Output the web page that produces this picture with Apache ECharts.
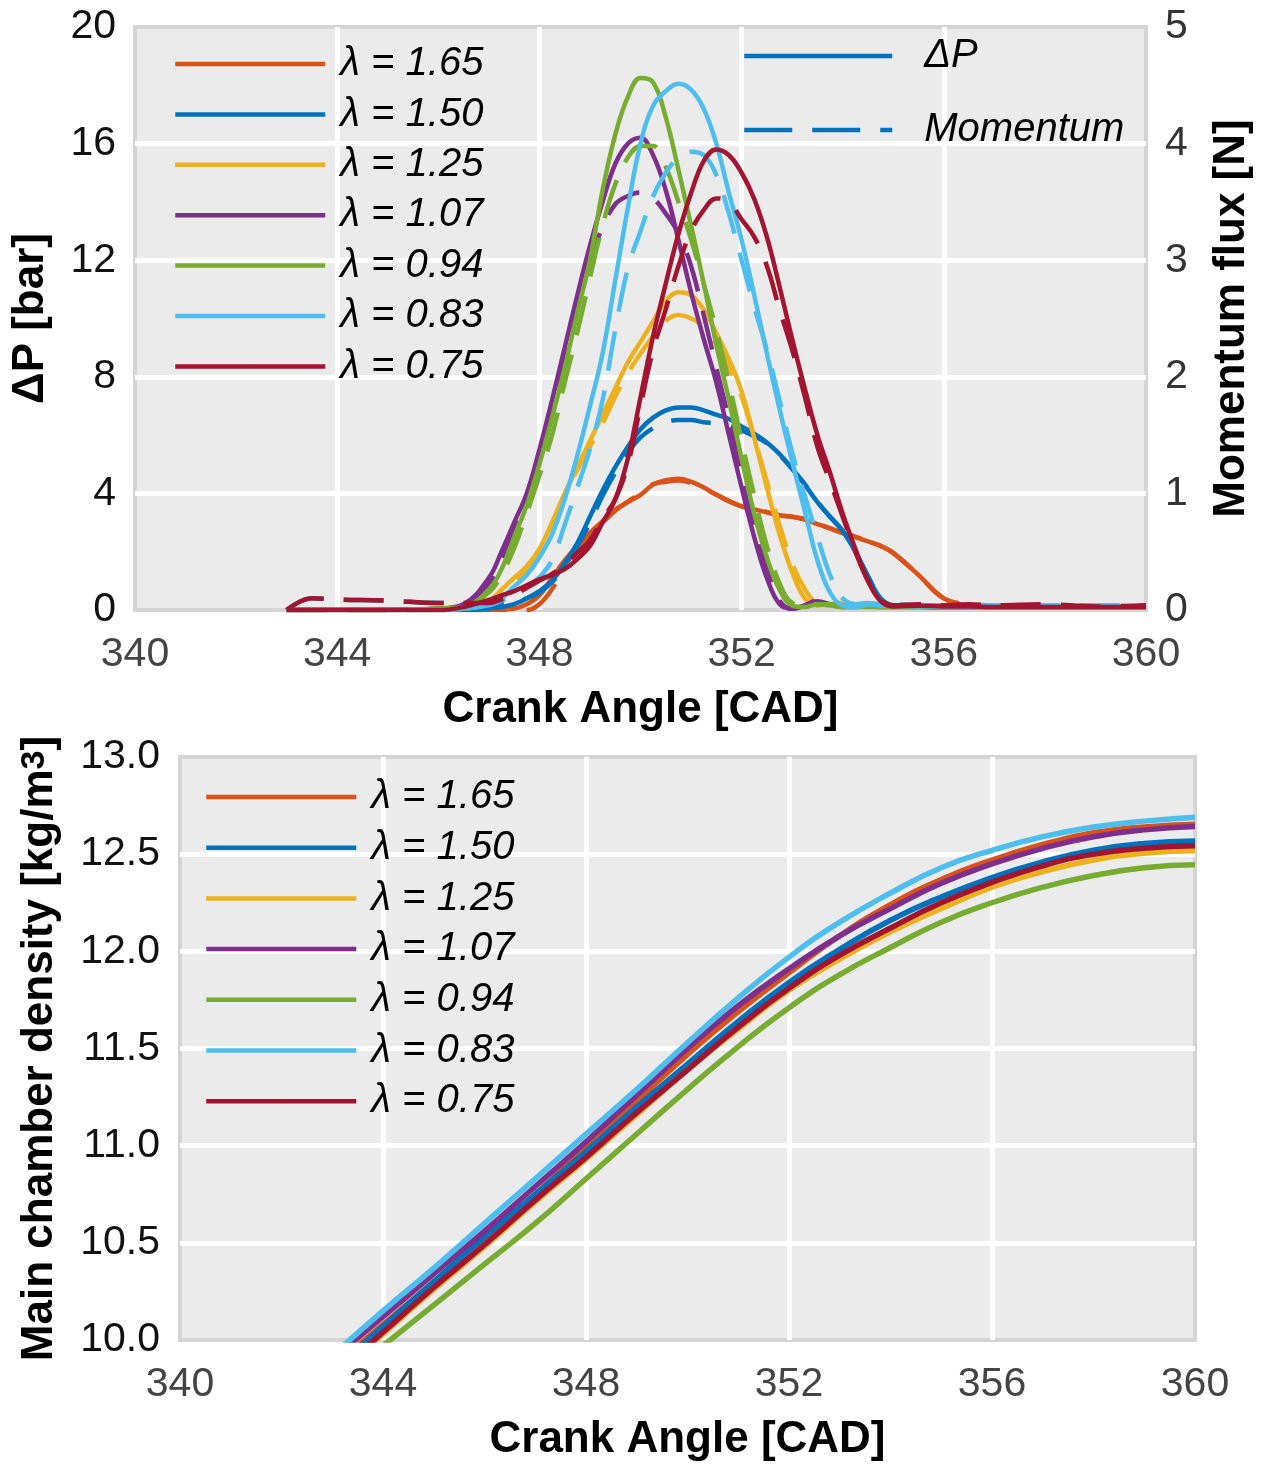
<!DOCTYPE html>
<html>
<head>
<meta charset="utf-8">
<script src="https://cdn.jsdelivr.net/npm/echarts@6/dist/echarts.min.js"></script>
<style>
  html, body { margin: 0; padding: 0; background: #fff; }
  #box { width: 1266px; height: 1466px; }
</style>
</head>
<body>
<div id="box"></div>
<script>
// crank angle samples for the top plot
const cad = [343, 343.5, 344, 345, 346, 346.5,
  347, 347.25, 347.5, 347.75, 348, 348.25, 348.5, 348.75, 349, 349.25, 349.5, 349.75,
  350, 350.25, 350.5, 350.75, 351, 351.25, 351.5, 351.75, 352, 352.25, 352.5, 352.75,
  353, 353.25, 353.5, 353.75, 354, 354.25, 354.5, 354.75,
  355, 355.5, 356, 356.5, 357, 358, 359, 360];

const lambdaNames = ['λ = 1.65', 'λ = 1.50', 'λ = 1.25', 'λ = 1.07', 'λ = 0.94', 'λ = 0.83', 'λ = 0.75'];
const colors = ['#D95319', '#0072BD', '#EDB120', '#7E2F8E', '#77AC30', '#4DBEEE', '#A2142F'];

// ΔP [bar]
const dp165 = [0,0,0,0,0,0, 0,0.02,0.05,0.2,0.5,1.1,1.7,2.2,2.65,3.05,3.45,3.7,3.95,4.3,4.45,4.5,4.4,4.2,3.95,3.75,3.55,3.45,3.35,3.25,3.2,3.1,2.95,2.8,2.65,2.5,2.35,2.2, 1.95,1.2,0.4,0.15,0.1,0.08,0.08,0.08];
const dp150 = [0,0,0,0,0,0, 0.05,0.1,0.2,0.4,0.65,1.0,1.6,2.3,3.2,4.1,4.9,5.6,6.2,6.6,6.85,6.95,6.95,6.85,6.7,6.55,6.3,6.05,5.75,5.35,4.85,4.3,3.7,3.2,2.7,2.0,1.15,0.4, 0.15,0.12,0.15,0.12,0.12,0.1,0.1,0.1];
const dp125 = [0,0,0,0,0,0.05, 0.3,0.7,1.1,1.5,2.1,3.0,4.0,4.9,5.8,6.7,7.6,8.5,9.2,9.9,10.6,10.9,10.8,10.3,9.5,8.6,7.5,5.9,4.2,2.6,1.3,0.4,0.15,0.2,0.25,0.2,0.2,0.15, 0.15,0.12,0.12,0.1,0.1,0.1,0.1,0.1];
const dp107 = [0,0,0,0,0.05,0.2, 1.1,2.0,3.0,4.0,5.5,7.2,9.0,10.8,12.5,14.0,15.3,16.0,16.2,15.6,14.4,12.7,10.9,9.3,7.8,6.0,4.2,2.5,1.1,0.2,0.05,0.15,0.3,0.2,0.1,0.1,0.12,0.1, 0.1,0.1,0.08,0.08,0.08,0.08,0.08,0.08];
const dp094 = [0,0,0,0,0.05,0.1, 0.7,1.4,2.5,3.6,5.0,6.6,8.3,10.2,12.0,14.4,16.3,17.6,18.25,18.1,16.9,15.1,13.2,11.2,9.1,7.2,5.2,3.3,1.8,0.7,0.15,0.1,0.2,0.15,0.1,0.12,0.1,0.1, 0.1,0.1,0.1,0.08,0.08,0.08,0.08,0.08];
const dp083 = [0,0,0,0,0,0.05, 0.2,0.4,0.8,1.2,1.8,2.6,3.8,5.3,7.0,8.8,11.3,13.8,16.0,17.3,17.8,18.05,17.85,17.2,16.0,14.3,12.7,10.8,8.8,6.9,5.1,3.4,1.7,0.6,0.15,0.1,0.2,0.15, 0.15,0.12,0.12,0.1,0.1,0.1,0.1,0.1];
const dp075 = [0,0,0,0,0,0.1, 0.35,0.5,0.65,0.85,1.05,1.2,1.4,1.75,2.2,3.0,3.8,5.2,7.3,9.4,11.2,12.9,14.3,15.4,15.8,15.6,15.0,14.1,12.8,11.1,9.3,7.6,6.0,4.7,3.3,2.1,1.0,0.3, 0.12,0.15,0.12,0.12,0.1,0.1,0.1,0.1];

// Momentum flux [N]
const mom165 = [0,0,0,0,0,0, 0,0,0,0,0.05,0.18,0.38,0.53,0.65,0.75,0.85,0.93,1.0,1.08,1.1,1.11,1.09,1.04,0.99,0.93,0.89,0.86,0.84,0.81,0.8,0.78,0.74,0.7,0.66,0.63,0.59,0.55, 0.49,0.3,0.1,0.05,0.04,0.03,0.03,0.03];
const mom150 = [0,0.1,0.09,0.08,0.06,0.06, 0.05,0.05,0.06,0.1,0.15,0.24,0.38,0.55,0.75,0.98,1.18,1.35,1.48,1.56,1.61,1.63,1.63,1.61,1.6,1.58,1.54,1.49,1.43,1.33,1.21,1.08,0.93,0.8,0.68,0.5,0.29,0.1, 0.04,0.03,0.03,0.03,0.03,0.03,0.03,0.03];
const mom125 = [0,0,0,0,0,0.01, 0.05,0.13,0.23,0.35,0.5,0.73,0.98,1.2,1.4,1.6,1.83,2.03,2.2,2.35,2.48,2.53,2.5,2.43,2.28,2.08,1.83,1.48,1.1,0.73,0.4,0.18,0.06,0.05,0.06,0.05,0.05,0.04, 0.04,0.03,0.03,0.03,0.03,0.03,0.03,0.03];
const mom107 = [0,0,0,0,0.01,0.04, 0.23,0.43,0.68,0.95,1.3,1.7,2.13,2.58,3.0,3.28,3.48,3.55,3.58,3.53,3.4,3.23,2.95,2.53,2.08,1.63,1.15,0.73,0.35,0.08,0.01,0.04,0.08,0.05,0.03,0.03,0.03,0.03, 0.03,0.03,0.02,0.02,0.02,0.02,0.02,0.02];
const mom094 = [0,0,0,0,0.01,0.03, 0.15,0.3,0.53,0.83,1.15,1.5,1.95,2.38,2.85,3.3,3.65,3.88,3.98,3.98,3.8,3.5,3.18,2.8,2.4,1.95,1.45,0.98,0.55,0.23,0.06,0.04,0.05,0.05,0.04,0.03,0.03,0.03, 0.03,0.03,0.02,0.02,0.02,0.02,0.02,0.02];
const mom083 = [0,0,0,0,0,0.01, 0.04,0.08,0.13,0.2,0.28,0.43,0.73,1.05,1.38,1.8,2.4,2.93,3.25,3.55,3.75,3.88,3.93,3.9,3.73,3.4,3.0,2.6,2.23,1.8,1.35,0.98,0.63,0.3,0.1,0.05,0.06,0.05, 0.05,0.04,0.04,0.04,0.04,0.04,0.04,0.04];
const mom075 = [0,0.1,0.09,0.08,0.06,0.06, 0.06,0.09,0.13,0.19,0.25,0.31,0.39,0.49,0.6,0.78,0.95,1.25,1.75,2.23,2.58,2.95,3.25,3.43,3.53,3.5,3.35,3.2,2.95,2.58,2.23,1.83,1.4,1.1,0.8,0.5,0.25,0.09, 0.04,0.05,0.04,0.05,0.04,0.05,0.03,0.04];

// bottom plot: main chamber density [kg/m3]
const denCad = [343, 344, 345, 346, 347, 348, 349, 350, 351, 352, 353, 354, 355, 356, 357, 358, 359, 360];
const den165 = [9.86,10.08,10.3,10.52,10.75,10.99,11.23,11.47,11.69,11.89,12.08,12.24,12.37,12.47,12.55,12.61,12.64,12.654];
const den150 = [9.84,10.07,10.3,10.53,10.75,10.97,11.2,11.42,11.64,11.84,12.01,12.16,12.28,12.38,12.46,12.52,12.555,12.568];
const den125 = [9.8,10.03,10.26,10.48,10.71,10.93,11.16,11.39,11.6,11.8,11.96,12.1,12.22,12.33,12.41,12.47,12.505,12.517];
const den107 = [9.9,10.12,10.34,10.56,10.79,11.02,11.26,11.5,11.72,11.91,12.08,12.22,12.35,12.45,12.53,12.59,12.625,12.642];
const den094 = [9.76,9.97,10.18,10.39,10.6,10.83,11.06,11.29,11.51,11.71,11.88,12.02,12.15,12.25,12.33,12.39,12.43,12.445];
const den083 = [9.92,10.15,10.37,10.6,10.83,11.06,11.29,11.53,11.76,11.97,12.15,12.3,12.43,12.52,12.59,12.64,12.67,12.69];
const den075 = [9.81,10.04,10.27,10.49,10.72,10.94,11.17,11.39,11.61,11.81,11.98,12.12,12.25,12.355,12.44,12.5,12.53,12.543];

const dpAll = [dp165, dp150, dp125, dp107, dp094, dp083, dp075];
const momAll = [mom165, mom150, mom125, mom107, mom094, mom083, mom075];
const denAll = [den165, den150, den125, den107, den094, den083, den075];

const FONT = "'Liberation Sans', Arial, Helvetica, sans-serif";
const DASH = [40, 20];

function zip(xs, ys) {
    return xs.map(function (x, i) { return [x, ys[i]]; });
}

let chart = echarts.init(document.getElementById('box'), null, {renderer: 'canvas'});

let series = [];
// top plot: solid ΔP + dashed momentum for each lambda
lambdaNames.forEach(function (name, i) {
    series.push({
        name: name,
        type: 'line',
        xAxisIndex: 0,
        yAxisIndex: 0,
        data: zip(cad, dpAll[i]),
        smooth: 0.4,
        symbol: 'none',
        color: colors[i],
        lineStyle: {color: colors[i], width: 4.5},
        z: 2 + i
    });
    series.push({
        name: 'mom ' + name,
        type: 'line',
        xAxisIndex: 0,
        yAxisIndex: 1,
        data: zip(cad, momAll[i]),
        smooth: 0.4,
        symbol: 'none',
        color: colors[i],
        lineStyle: {color: colors[i], width: 4.5, type: DASH},
        z: 2 + i
    });
});
// dummy series only for the ΔP / Momentum legend
series.push({name: 'ΔP', type: 'line', xAxisIndex: 0, yAxisIndex: 0, data: [], symbol: 'none',
    color: colors[1], lineStyle: {color: colors[1], width: 4.5}});
series.push({name: 'Momentum', type: 'line', xAxisIndex: 0, yAxisIndex: 1, data: [], symbol: 'none',
    color: colors[1], lineStyle: {color: colors[1], width: 4.5, type: [48, 20]}});
// bottom plot: density
lambdaNames.forEach(function (name, i) {
    series.push({
        name: name,
        type: 'line',
        xAxisIndex: 1,
        yAxisIndex: 2,
        data: zip(denCad, denAll[i]),
        smooth: 0.5,
        symbol: 'none',
        color: colors[i],
        lineStyle: {color: colors[i], width: 5.5}
    });
});

const tickFont = {fontFamily: FONT, fontSize: 41};
const nameFont = {fontFamily: FONT, fontSize: 44, fontWeight: 'bold', color: '#000'};
const split = {show: true, showMinLine: false, showMaxLine: false, lineStyle: {color: '#ffffff', width: 5}};

function xAx(gridIndex) {
    return {
        type: 'value', gridIndex: gridIndex, min: 340, max: 360, interval: 4,
        axisLine: {show: false}, axisTick: {show: false},
        axisLabel: Object.assign({color: '#444', margin: 24, showMinLabel: true, showMaxLabel: true}, tickFont),
        splitLine: split,
        name: 'Crank Angle [CAD]', nameLocation: 'middle', nameGap: 78, nameMoveOverlap: false,
        nameTextStyle: nameFont
    };
}

function lambdaLegend(left, top, gap) {
    return {
        data: lambdaNames, orient: 'vertical', left: left, top: top, padding: 0,
        itemWidth: 150, itemHeight: 4, itemGap: gap, selectedMode: false,
        lineStyle: {width: 4.5},
        textStyle: {fontFamily: FONT, fontSize: 40, fontStyle: 'italic', color: '#000', padding: [0, 0, 0, 10]}
    };
}

let option = {
    animation: false,
    backgroundColor: '#ffffff',
    grid: [
        {left: 135, top: 27, width: 1011, height: 583, show: true, backgroundColor: '#ebebeb',
         borderColor: '#d4d4d4', borderWidth: 4, outerBoundsMode: 'none'},
        {left: 180, top: 757, width: 1015, height: 583, show: true, backgroundColor: '#ebebeb',
         borderColor: '#d4d4d4', borderWidth: 4, outerBoundsMode: 'none'}
    ],
    xAxis: [xAx(0), xAx(1)],
    yAxis: [
        {
            type: 'value', gridIndex: 0, position: 'left', min: 0, max: 20, interval: 4,
            axisLine: {show: false}, axisTick: {show: false},
            axisLabel: Object.assign({color: '#111', margin: 19, showMinLabel: true, showMaxLabel: true}, tickFont),
            splitLine: split,
            name: 'ΔP [bar]', nameLocation: 'middle', nameGap: 82, nameMoveOverlap: false,
            nameTextStyle: nameFont
        },
        {
            type: 'value', gridIndex: 0, position: 'right', min: 0, max: 5, interval: 1,
            axisLine: {show: false}, axisTick: {show: false},
            axisLabel: Object.assign({color: '#333', margin: 19, showMinLabel: true, showMaxLabel: true}, tickFont),
            splitLine: {show: false},
            name: 'Momentum flux [N]', nameLocation: 'middle', nameGap: 64, nameMoveOverlap: false,
            nameTextStyle: nameFont
        },
        {
            type: 'value', gridIndex: 1, position: 'left', min: 10, max: 13, interval: 0.5,
            axisLine: {show: false}, axisTick: {show: false},
            axisLabel: Object.assign({color: '#111', margin: 20, showMinLabel: true, showMaxLabel: true,
                formatter: function (v) { return v.toFixed(1); }}, tickFont),
            splitLine: split,
            name: 'Main chamber density [kg/m{sup|3}]', nameLocation: 'middle', nameGap: 118, nameMoveOverlap: false,
            nameTextStyle: Object.assign({}, nameFont, {
                rich: {sup: {fontFamily: FONT, fontSize: 34, fontWeight: 'bold', color: '#000', verticalAlign: 'top'}}
            })
        }
    ],
    legend: [
        lambdaLegend(173, 44, 10.4),
        {
            data: ['ΔP', 'Momentum'], orient: 'vertical', left: 742, top: 36, padding: 0,
            itemWidth: 148, itemHeight: 4, itemGap: 34, selectedMode: false,
            lineStyle: {width: 4.5},
            textStyle: {fontFamily: FONT, fontSize: 40, fontStyle: 'italic', color: '#000', padding: [0, 0, 0, 27]}
        },
        lambdaLegend(204, 777, 10.7)
    ],
    series: series
};

chart.setOption(option);
</script>
</body>
</html>
